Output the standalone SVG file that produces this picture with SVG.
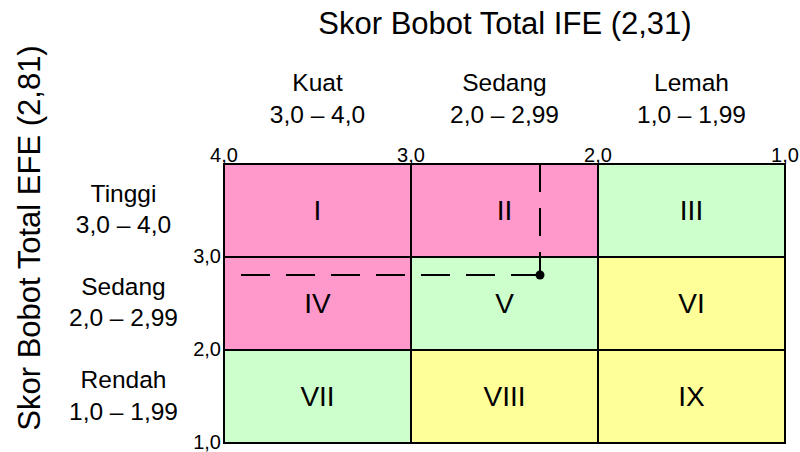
<svg xmlns="http://www.w3.org/2000/svg" width="800" height="452" viewBox="0 0 800 452">
<style>
text{font-family:"Liberation Sans",Arial,sans-serif;fill:#000}
.t{font-size:31px;text-anchor:middle}
.l{font-size:24.5px;text-anchor:middle}
.n{font-size:28px;text-anchor:middle}
.k{font-size:20px}
.grid{stroke:#000;stroke-width:2;fill:none}
.pink{fill:#FF99CC}.green{fill:#CCFFCC}.yellow{fill:#FFFF99}
.dash{stroke:#000;stroke-width:2;fill:none;stroke-dasharray:29 16}
</style>
<rect width="800" height="452" fill="#fff"/>
<text class="t" x="505" y="34">Skor Bobot Total IFE (2,31)</text>
<text class="t" transform="translate(40,238) rotate(-90)" x="0" y="0">Skor Bobot Total EFE (2,81)</text>
<g id="col-labels">
<text class="l" x="317.5" y="90.5">Kuat</text>
<text class="l" x="317.5" y="122.5">3,0 – 4,0</text>
<text class="l" x="504.5" y="90.5">Sedang</text>
<text class="l" x="504.5" y="122.5">2,0 – 2,99</text>
<text class="l" x="691.5" y="90.5">Lemah</text>
<text class="l" x="691.5" y="122.5">1,0 – 1,99</text>
</g>
<g id="row-labels">
<text class="l" x="123.5" y="201.5">Tinggi</text>
<text class="l" x="123.5" y="233">3,0 – 4,0</text>
<text class="l" x="123.5" y="295">Sedang</text>
<text class="l" x="123.5" y="326">2,0 – 2,99</text>
<text class="l" x="123.5" y="388">Rendah</text>
<text class="l" x="123.5" y="419.5">1,0 – 1,99</text>
</g>
<g id="cell-I"><rect class="pink" x="224" y="164" width="187" height="93"/><text class="n" x="317.5" y="220">I</text></g>
<g id="cell-II"><rect class="pink" x="411" y="164" width="187" height="93"/><text class="n" x="504.5" y="220">II</text></g>
<g id="cell-III"><rect class="green" x="598" y="164" width="187" height="93"/><text class="n" x="691.5" y="220">III</text></g>
<g id="cell-IV"><rect class="pink" x="224" y="257" width="187" height="93"/><text class="n" x="317.5" y="313">IV</text></g>
<g id="cell-V"><rect class="green" x="411" y="257" width="187" height="93"/><text class="n" x="504.5" y="313">V</text></g>
<g id="cell-VI"><rect class="yellow" x="598" y="257" width="187" height="93"/><text class="n" x="691.5" y="313">VI</text></g>
<g id="cell-VII"><rect class="green" x="224" y="350" width="187" height="93"/><text class="n" x="317.5" y="406">VII</text></g>
<g id="cell-VIII"><rect class="yellow" x="411" y="350" width="187" height="93"/><text class="n" x="504.5" y="406">VIII</text></g>
<g id="cell-IX"><rect class="yellow" x="598" y="350" width="187" height="93"/><text class="n" x="691.5" y="406">IX</text></g>
<g id="grid">
<path class="grid" d="M224,164H785V443H224Z M411,164V443 M598,164V443 M224,257H785 M224,350H785"/>
</g>
<g id="ticks">
<text class="k" x="224" y="161.5" text-anchor="middle">4,0</text>
<text class="k" x="411" y="161.5" text-anchor="middle">3,0</text>
<text class="k" x="598" y="161.5" text-anchor="middle">2,0</text>
<text class="k" x="785" y="161.5" text-anchor="middle">1,0</text>
<text class="k" x="221" y="263" text-anchor="end">3,0</text>
<text class="k" x="221" y="356" text-anchor="end">2,0</text>
<text class="k" x="221" y="449" text-anchor="end">1,0</text>
</g>
<g id="connectors">
<path class="dash" d="M540,275H224"/>
<path class="dash" style="stroke-dasharray:28 16" d="M540,164V275"/>
<circle cx="540" cy="275" r="4.5" fill="#000"/>
</g>
</svg>
